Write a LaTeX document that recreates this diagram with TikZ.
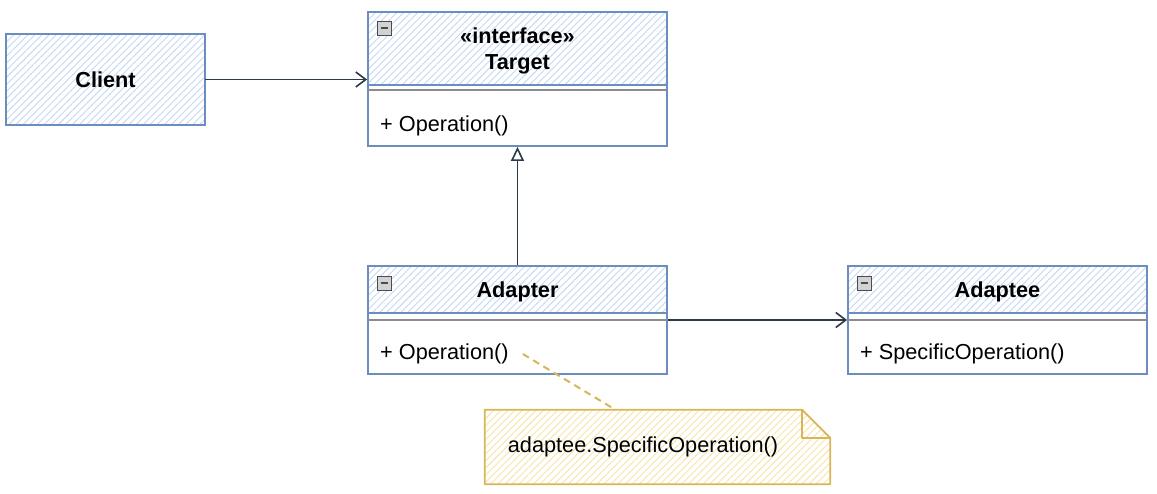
\documentclass[tikz,border=0pt]{standalone}
\usepackage{fontspec}
\setmainfont{Liberation Sans}
\usetikzlibrary{arrows.meta,patterns.meta}
\definecolor{umlblue}{HTML}{6C8EBF}
\definecolor{hatchblue}{HTML}{C3D7F4}
\definecolor{notegold}{HTML}{D6B656}
\definecolor{hatchgold}{HTML}{F7E3A6}
\definecolor{linkdark}{HTML}{2B3A47}
\definecolor{sepgray}{HTML}{8C8C8C}

\begin{document}
\begin{tikzpicture}[x=1pt,y=-1pt,
    bluehatch/.style={pattern={Lines[angle=45,distance=5pt,line width=0.9pt]},pattern color=hatchblue},
    goldhatch/.style={pattern={Lines[angle=45,distance=5pt,line width=0.9pt]},pattern color=hatchgold},
    classbox/.style={draw=umlblue,line width=1.8pt,minimum width=299pt,inner sep=0pt},
    classhead/.style={classbox,bluehatch,font=\fontsize{21.7}{26}\selectfont\bfseries,align=center,text depth=0pt},
    optext/.style={anchor=west,inner sep=0pt,font=\fontsize{21.7}{26}\selectfont},
    minbox/.style={draw=gray!60!black,fill=gray!35,minimum size=14pt,inner sep=0pt,line width=0.8pt,
        path picture={\draw[line width=1.8pt] ([xshift=3.5pt]path picture bounding box.west) -- ([xshift=-3.5pt]path picture bounding box.east);}},
    sepline/.style={draw=sepgray,line width=2.2pt},
    link/.style={draw=linkdark,line width=1.6pt}]
    \useasboundingbox (0,0) rectangle (1157,494);

    % client
    \node[classhead,minimum width=199pt,minimum height=91pt] (client) at (105.5,79.5) {Client};

    % target
    \node[classbox,minimum height=134pt] (target) at (517.5,79) {};
    \node[classhead,minimum height=73pt,anchor=north] (targethead) at (target.north) {«interface»\\Target};
    \draw[sepline] ([xshift=0.9pt,yshift=-79pt]target.north west) -- ([xshift=-0.9pt,yshift=-79pt]target.north east);
    \node[minbox] (targetmin) at (384.5,28) {};
    \node[optext] (targetop) at (380,126) {+ Operation()};

    % adapter
    \node[classbox,minimum height=108pt] (adapter) at (517.5,320) {};
    \node[classhead,minimum height=47pt,anchor=north] (adapterhead) at (adapter.north) {Adapter};
    \draw[sepline] ([xshift=0.9pt,yshift=-55pt]adapter.north west) -- ([xshift=-0.9pt,yshift=-55pt]adapter.north east);
    \node[minbox] (adaptermin) at (384.5,283) {};
    \node[optext] (adapterop) at (380,354) {+ Operation()};

    % adaptee
    \node[classbox,minimum height=108pt] (adaptee) at (997.5,320) {};
    \node[classhead,minimum height=47pt,anchor=north] (adapteehead) at (adaptee.north) {Adaptee};
    \draw[sepline] ([xshift=0.9pt,yshift=-55pt]adaptee.north west) -- ([xshift=-0.9pt,yshift=-55pt]adaptee.north east);
    \node[minbox] (adapteemin) at (864.5,283) {};
    \node[optext] (adapteeop) at (860,354) {+ SpecificOperation()};

    % note
    \node[minimum width=345pt,minimum height=74pt,inner sep=0pt] (note) at (657.5,447) {};
    \draw[notegold,line width=1.8pt,line join=round,goldhatch] (note.north west) -- ([xshift=-28pt]note.north east)
        -- ([yshift=-28pt]note.north east) -- (note.south east) -- (note.south west) -- cycle;
    \draw[notegold,line width=1.8pt,line join=round] ([xshift=-28pt]note.north east) -- ([xshift=-28pt,yshift=-28pt]note.north east)
        -- ([yshift=-28pt]note.north east);
    \node[inner sep=0pt,font=\fontsize{21.7}{26}\selectfont] (notetext) at (643,447) {adaptee.SpecificOperation()};

    % links
    \draw[link,-{Straight Barb[length=10pt,width=15pt]}] (client.east) -- (client.east -| target.west);
    \draw[link,-{Triangle[open,length=14pt,width=13pt]}] (adapter.north) -- (target.south);
    \draw[link,-{Straight Barb[length=10pt,width=15pt]}] (adapter.east) -- (adaptee.west);
    \draw[notegold,line width=2pt,dash pattern=on 7pt off 5pt] ([xshift=14pt]adapterop.east) -- ([xshift=-42pt]note.north);
\end{tikzpicture}
\end{document}
